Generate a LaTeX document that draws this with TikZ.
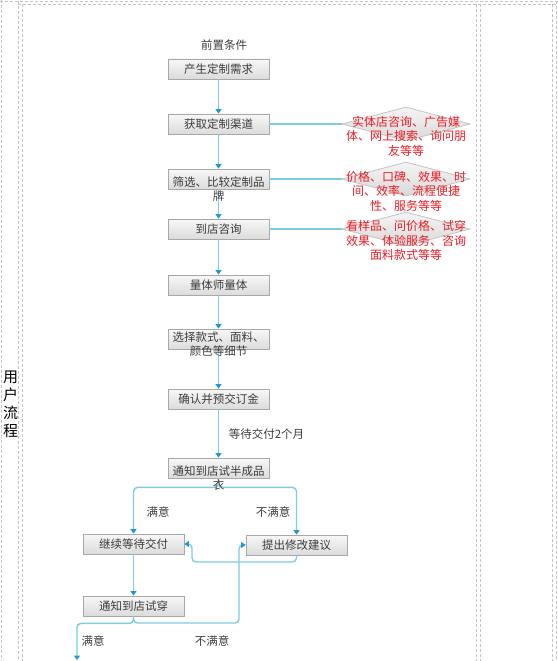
\documentclass[tikz,border=0pt]{standalone}
\usepackage{fontspec}
\newfontfamily\cjk{Noto Sans CJK SC}
\usetikzlibrary{arrows.meta,shapes.geometric}
\definecolor{linec}{HTML}{7DCCE3}
\definecolor{arrowc}{HTML}{2196D3}
\definecolor{boxline}{HTML}{A8A8A8}
\definecolor{txtc}{HTML}{3C3C3C}
\definecolor{redt}{HTML}{EE1C25}
\definecolor{lanec}{HTML}{C4C4C4}
\tikzset{
  stepbox/.style={rectangle, draw=boxline, line width=0.8bp, top color=white!97!black, bottom color=white!86!black, minimum width=101bp, minimum height=20bp, inner sep=0pt},
  choice/.style={diamond, draw=lanec, line width=0.8bp, top color=white!96!black, bottom color=white!85!black, minimum width=128bp, minimum height=34bp, inner sep=0pt},
  btext/.style={anchor=base, align=center, inner sep=0pt, text=txtc, font=\cjk\fontsize{11.5bp}{14.5bp}\selectfont},
  rtext/.style={anchor=base, align=center, inner sep=0pt, text=redt, font=\cjk\fontsize{12bp}{14.5bp}\selectfont},
  ltext/.style={anchor=base, inner sep=0pt, text=txtc, font=\cjk\fontsize{11.5bp}{14bp}\selectfont},
  flow/.style={draw=linec, line width=1.4bp, -{Triangle[width=6bp,length=4.5bp,color=arrowc]}},
  plain/.style={draw=linec, line width=1.4bp},
  lane/.style={draw=lanec, line width=0.8bp, dash pattern=on 3bp off 2bp},
}
\begin{document}
\begin{tikzpicture}[x=1bp,y=-1bp]
\useasboundingbox (0,0) rectangle (558,661);
% swimlane frame
\draw[lane] (0,1) -- (558,1);
\draw[lane] (18,4) -- (556,4);
\draw[lane] (1,0) -- (1,661);
\draw[lane] (18,1) -- (18,661);
\draw[lane] (22,4) -- (22,661);
\draw[lane] (476,4) -- (476,661);
\draw[lane] (480,4) -- (480,661);
\draw[lane] (552,4) -- (552,661);
\draw[lane] (556,1) -- (556,661);
% multi-line nodes: anchor=base is the baseline of the last line
\node[anchor=base, align=center, inner sep=0pt, font=\cjk\fontsize{15bp}{17.7bp}\selectfont] (lanelabel) at (10.7,436) {用\\户\\流\\程};

% title
\node[ltext] (title) at (224,49.5) {前置条件};

% main boxes
\node[stepbox] (b1) at (218.5,69) {};
\node[stepbox] (b2) at (218.5,124) {};
\node[stepbox] (b3) at (218.5,179) {};
\node[stepbox] (b4) at (218.5,229) {};
\node[stepbox] (b5) at (218.5,285) {};
\node[stepbox] (b6) at (218.5,339) {};
\node[stepbox] (b7) at (218.5,399) {};
\node[stepbox] (b8) at (218.5,468) {};
\node[stepbox] (b9) at (133.5,544) {};
\node[stepbox] (b10) at (296.5,545) {};
\node[stepbox] (b11) at (133.5,606) {};

% diamonds
\node[choice] (d1) at (406,124) {};
\node[choice] (d2) at (406,179) {};
\node[choice] (d3) at (406,229) {};

% connectors
\draw[flow] (b1) -- (b2);
\draw[flow] (b2) -- (b3);
\draw[flow] (b3) -- (b4);
\draw[flow] (b4) -- (b5);
\draw[flow] (b5) -- (b6);
\draw[flow] (b6) -- (b7);
\draw[flow] (b7) -- (b8);
\draw[plain] (b2) -- (d1);
\draw[plain] (b3) -- (d2);
\draw[plain] (b4) -- (d3);

\coordinate (k1) at (192,562);
\coordinate (k2) at (239,623);
\coordinate (exit) at (77,660);
\draw[flow, rounded corners=4bp] (b8.south) -- ++(0,9) -| (b9.north);
\draw[flow, rounded corners=4bp] (b8.south) -- ++(0,9) -| (b10.north);
\draw[flow, rounded corners=4bp] (b10.south) |- (k1) |- (b9.east);
\draw[flow] (b9) -- (b11);
\draw[flow, rounded corners=4bp] (b11.south) |- (k2) |- (b10.west);
\draw[flow, rounded corners=4bp] (b11.south) -- ++(0,7) -| (exit);

% box texts
\node[btext] (t1) at (218.5,73.4) {产生定制需求};
\node[btext] (t2) at (218.5,128.4) {获取定制渠道};
\node[btext] (t3) at (218.5,200.5) {筛选、比较定制品\\牌};
\node[btext] (t4) at (218.5,233.4) {到店咨询};
\node[btext] (t5) at (218.5,289.4) {量体师量体};
\node[btext] (t6) at (218.5,355.6) {选择款式、面料、\\颜色等细节};
\node[btext] (t7) at (218.5,403.4) {确认并预交订金};
\node[btext] (t8) at (218.5,489.5) {通知到店试半成品\\衣};
\node[btext] (t9) at (133.5,548.4) {继续等待交付};
\node[btext] (t10) at (296.5,549.4) {提出修改建议};
\node[btext] (t11) at (133.5,610.4) {通知到店试穿};

% diamond texts
\node[rtext] (r1) at (406,155.4) {实体店咨询、广告媒\\体、网上搜索、询问朋\\友等等};
\node[rtext] (r2) at (406,210) {价格、口碑、效果、时\\间、效率、流程便捷\\性、服务等等};
\node[rtext] (r3) at (406,259.6) {看样品、问价格、试穿\\效果、体验服务、咨询\\面料款式等等};

% edge labels
\node[ltext] (l1) at (266.5,438.4) {等待交付2个月};
\node[ltext] (l2) at (158,516.4) {满意};
\node[ltext] (l3) at (273,516.4) {不满意};
\node[ltext] (l4) at (93,645.4) {满意};
\node[ltext] (l5) at (212,645.4) {不满意};
\end{tikzpicture}
\end{document}
